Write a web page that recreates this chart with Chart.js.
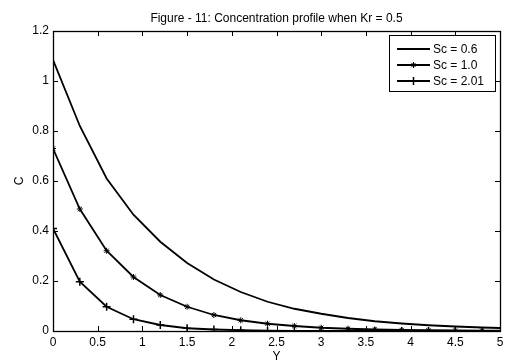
<!DOCTYPE html>
<html>
<head>
<meta charset="utf-8">
<script src="https://cdn.jsdelivr.net/npm/chart.js@4/dist/chart.umd.min.js"></script>
<style>
html,body{margin:0;padding:0;background:#fff;}
#wrap{width:513px;height:361px;}
</style>
</head>
<body>
<div id="wrap"><canvas id="c" width="513" height="361"></canvas></div>
<script>
const xValues = [0, 0.3, 0.6, 0.9, 1.2, 1.5, 1.8, 2.1, 2.4, 2.7, 3.0, 3.3, 3.6, 3.9, 4.2, 4.5, 4.8, 5.0];
const sc06 = [1.085, 0.82, 0.61, 0.465, 0.357, 0.272, 0.206, 0.156, 0.117, 0.089, 0.069, 0.052, 0.039, 0.030, 0.023, 0.018, 0.014, 0.012];
const sc10 = [0.73, 0.488, 0.321, 0.216, 0.144, 0.097, 0.064, 0.043, 0.029, 0.020, 0.013, 0.009, 0.006, 0.004, 0.003, 0.002, 0.0015, 0.001];
const sc201 = [0.41, 0.197, 0.097, 0.047, 0.024, 0.011, 0.006, 0.003, 0.0015, 0.0008, 0.0004, 0.0002, 0.0001, 0, 0, 0, 0, 0];
const seriesLabels = ['Sc = 0.6', 'Sc = 1.0', 'Sc = 2.01'];
const titleText = 'Figure - 11: Concentration profile when Kr = 0.5';
const xTitle = 'Y';
const yTitle = 'C';

const FONT = 'Arial, "Liberation Sans", Helvetica, sans-serif';
const FS = 12;
const toPts = arr => xValues.map((x, i) => ({x: x, y: arr[i]}));
const lastIdx = xValues.length - 1;
const fmt = v => String(Math.round(v * 100) / 100);

const styles = [
  {pointStyle: null, radius: 0, bw: 0},
  {pointStyle: 'star', radius: 3, bw: 1},
  {pointStyle: 'cross', radius: 4, bw: 1.5}
];

const datasets = [sc06, sc10, sc201].map((arr, k) => ({
  label: seriesLabels[k],
  data: toPts(arr),
  borderColor: '#000',
  backgroundColor: '#000',
  borderWidth: 1.8,
  pointBorderWidth: styles[k].bw,
  pointStyle: styles[k].pointStyle || 'circle',
  pointRadius: ctx => (styles[k].pointStyle && ctx.dataIndex !== lastIdx) ? styles[k].radius : 0,
  pointHoverRadius: 0,
  tension: 0,
  showLine: true,
  fill: false
}));

const frame = {
  id: 'frame',
  afterDraw(chart) {
    const {ctx, chartArea: a, scales} = chart;
    const xs = scales.x, ys = scales.y;
    ctx.save();
    // title centred over the plot area
    ctx.fillStyle = '#000';
    ctx.font = FS + 'px ' + FONT;
    ctx.textAlign = 'center';
    ctx.textBaseline = 'middle';
    ctx.fillText(titleText, (a.left + a.right) / 2, 19);

    ctx.strokeStyle = '#000';
    ctx.lineWidth = 1;
    const L = 5;
    ctx.beginPath();
    xs.ticks.forEach(t => {
      const px = Math.round(xs.getPixelForValue(t.value)) + 0.5;
      ctx.moveTo(px, a.bottom); ctx.lineTo(px, a.bottom - L);
      ctx.moveTo(px, a.top); ctx.lineTo(px, a.top + L);
    });
    ys.ticks.forEach(t => {
      const py = Math.round(ys.getPixelForValue(t.value)) + 0.5;
      ctx.moveTo(a.left, py); ctx.lineTo(a.left + L, py);
      ctx.moveTo(a.right, py); ctx.lineTo(a.right - L, py);
    });
    ctx.stroke();
    ctx.lineWidth = 1.3;
    ctx.strokeRect(Math.round(a.left) + 0.5, Math.round(a.top) + 0.5, Math.round(a.right - a.left), Math.round(a.bottom - a.top));

    // legend box inside the plot area
    const bx = 389.5, by = 35.5, bw = 106, bh = 56;
    ctx.fillStyle = '#fff';
    ctx.fillRect(bx, by, bw, bh);
    ctx.lineWidth = 1;
    ctx.strokeRect(bx, by, bw, bh);
    ctx.font = FS + 'px ' + FONT;
    ctx.textBaseline = 'middle';
    ctx.textAlign = 'left';
    chart.data.datasets.forEach((ds, k) => {
      const yy = 49 + k * 16;
      ctx.strokeStyle = '#000';
      ctx.fillStyle = '#000';
      ctx.lineWidth = 1.8;
      ctx.beginPath();
      ctx.moveTo(397, yy); ctx.lineTo(430, yy);
      ctx.stroke();
      if (styles[k].pointStyle) {
        ctx.lineWidth = styles[k].bw;
        Chart.helpers.drawPoint(ctx, {pointStyle: styles[k].pointStyle, radius: styles[k].radius, borderWidth: styles[k].bw, rotation: 0}, 413.5, yy);
      }
      ctx.fillStyle = '#000';
      ctx.fillText(ds.label, 433, yy + 0.5);
    });
    ctx.restore();
  }
};

new Chart(document.getElementById('c'), {
  type: 'scatter',
  data: {datasets: datasets},
  options: {
    responsive: false,
    animation: false,
    devicePixelRatio: 1,
    layout: {padding: {top: 31, right: 13, bottom: 0, left: 0}},
    plugins: {
      legend: {display: false},
      tooltip: {enabled: false},
      title: {display: false}
    },
    scales: {
      x: {
        type: 'linear',
        min: 0, max: 5,
        afterFit: s => { s.height = 30; },
        ticks: {stepSize: 0.5, color: '#000', padding: 4, maxRotation: 0, font: {family: FONT, size: FS}, callback: v => fmt(v)},
        grid: {display: false, drawTicks: false},
        border: {display: false},
        title: {display: true, text: xTitle, color: '#000', font: {family: FONT, size: FS, lineHeight: 1.0}, padding: {top: 0, bottom: -2}}
      },
      y: {
        type: 'linear',
        min: 0, max: 1.2,
        afterFit: s => { s.width = 53; },
        ticks: {stepSize: 0.2, color: '#000', padding: 4, font: {family: FONT, size: FS}, callback: v => fmt(v)},
        grid: {display: false, drawTicks: false},
        border: {display: false},
        title: {display: true, text: yTitle, color: '#000', font: {family: FONT, size: FS, lineHeight: 1.2}, padding: {top: 12, bottom: 0}}
      }
    }
  },
  plugins: [frame]
});
</script>
</body>
</html>
